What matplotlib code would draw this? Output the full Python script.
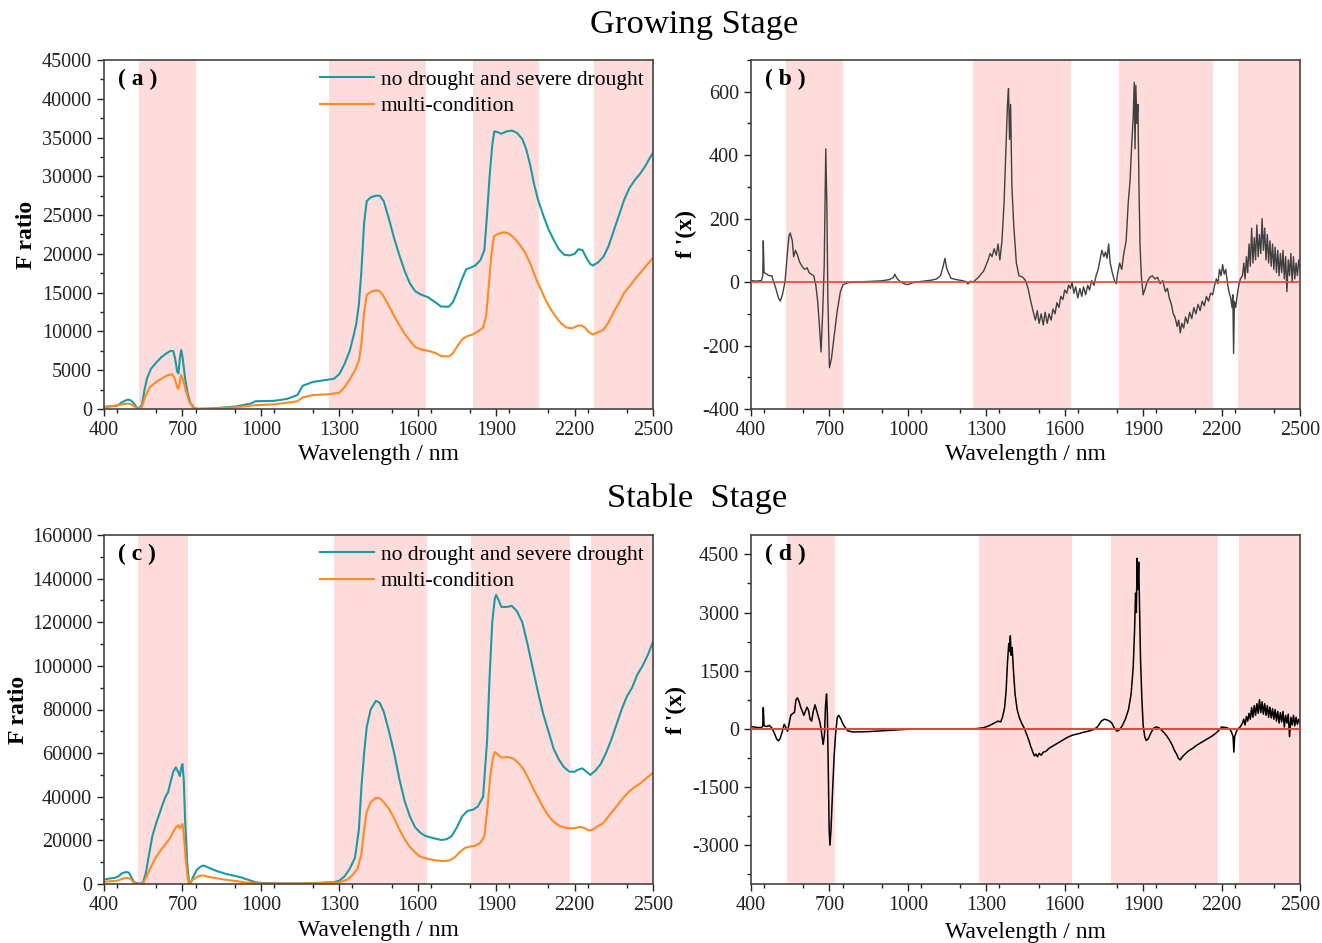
import numpy as np
import matplotlib
matplotlib.use("Agg")
import matplotlib.pyplot as plt
from matplotlib.ticker import MultipleLocator

plt.rcParams['font.family'] = ['Liberation Serif', 'DejaVu Serif']
plt.rcParams['axes.unicode_minus'] = False

# ---- data: (wavelength nm, value) ----
# (a) growing stage F ratio, no drought vs severe drought
teal_a = [(400, 300), (450, 400), (470, 900), (490, 1200), (500, 1150), (510, 900), (525, 200), (535, 150),
          (545, 500), (555, 2500), (565, 4000), (580, 5200), (600, 6000), (620, 6700), (640, 7200), (655, 7500),
          (665, 7450), (672, 6500), (680, 4800), (685, 4600), (690, 6500), (695, 7600), (700, 6800), (710, 4000),
          (720, 2000), (730, 800), (745, 100), (760, 0), (800, 50), (900, 300), (960, 700), (980, 1000),
          (1050, 1050), (1100, 1300), (1140, 1800), (1160, 3000), (1200, 3500), (1260, 3800), (1280, 3900),
          (1300, 4500), (1320, 5800), (1340, 7500), (1355, 9500), (1365, 11000), (1375, 13500), (1385, 18000),
          (1395, 24000), (1405, 26800), (1420, 27300), (1440, 27500), (1455, 27500), (1470, 26800), (1490, 24500),
          (1510, 22000), (1530, 19800), (1550, 17800), (1570, 16200), (1590, 15200), (1610, 14800), (1640, 14400),
          (1670, 13700), (1690, 13200), (1720, 13200), (1735, 13800), (1750, 15000), (1770, 16800), (1785, 18000),
          (1800, 18200), (1820, 18500), (1840, 19200), (1855, 20500), (1865, 25000), (1875, 30000), (1885, 34000),
          (1893, 35800), (1905, 35700), (1920, 35500), (1940, 35800), (1960, 35900), (1980, 35600), (2000, 34800),
          (2015, 33500), (2030, 31500), (2045, 29000), (2060, 27000), (2080, 25000), (2100, 23200), (2120, 21800),
          (2140, 20600), (2160, 19900), (2180, 19800), (2200, 20000), (2215, 20600), (2230, 20500), (2245, 19500),
          (2260, 18700), (2270, 18500), (2290, 18900), (2310, 19600), (2330, 21000), (2350, 23000), (2370, 25000),
          (2390, 27000), (2410, 28500), (2430, 29500), (2450, 30300), (2470, 31300), (2490, 32500), (2500, 33000)]

# (a) multi-condition
orange_a = [(400, 200), (470, 600), (490, 700), (505, 600), (525, 100), (535, 50), (545, 300), (560, 1800),
            (575, 2800), (600, 3500), (620, 3900), (640, 4300), (660, 4500), (670, 4000), (680, 2800), (685, 2600),
            (690, 3500), (695, 4400), (702, 3800), (712, 2500), (725, 1000), (740, 200), (755, 50), (800, 50),
            (900, 200), (980, 500), (1050, 600), (1100, 800), (1140, 1000), (1160, 1500), (1200, 1800), (1260, 1900),
            (1300, 2100), (1320, 2800), (1340, 3800), (1360, 5000), (1375, 6200), (1385, 8500), (1395, 12500),
            (1405, 14700), (1420, 15100), (1440, 15300), (1455, 15200), (1470, 14500), (1490, 13300), (1510, 12000),
            (1530, 10800), (1550, 9700), (1570, 8800), (1590, 8000), (1610, 7700), (1640, 7500), (1670, 7200),
            (1690, 6800), (1720, 6800), (1735, 7200), (1750, 8000), (1770, 9000), (1790, 9400), (1810, 9600),
            (1830, 10000), (1850, 10500), (1862, 12000), (1872, 16000), (1882, 20000), (1892, 22300), (1910, 22600),
            (1930, 22800), (1950, 22600), (1970, 22000), (1990, 21200), (2010, 20200), (2030, 18800), (2050, 17000),
            (2070, 15500), (2090, 14000), (2110, 12800), (2130, 11800), (2150, 11000), (2170, 10500), (2190, 10400),
            (2210, 10700), (2225, 10800), (2240, 10500), (2255, 9900), (2270, 9600), (2290, 9900), (2310, 10200),
            (2330, 11200), (2350, 12500), (2370, 13700), (2390, 15000), (2410, 15800), (2430, 16700), (2450, 17500),
            (2470, 18300), (2490, 19100), (2500, 19500)]

# (c) stable stage F ratio, no drought vs severe drought
teal_c = [(400, 2000), (420, 2500), (440, 2800), (455, 3500), (470, 5000), (485, 5500), (495, 5200), (505, 3000),
          (515, 800), (540, 0), (550, 1000), (560, 5000), (570, 12000), (585, 22000), (600, 28000), (620, 35000),
          (635, 40000), (645, 42000), (655, 47000), (665, 51500), (675, 53500), (685, 51000), (690, 49500),
          (695, 53000), (700, 55000), (705, 48000), (710, 30000), (718, 10000), (725, 1000), (730, 0), (740, 3000),
          (755, 6500), (770, 8000), (780, 8500), (800, 7500), (830, 6000), (870, 4500), (920, 3200), (950, 2000),
          (980, 800), (1000, 500), (1100, 200), (1200, 400), (1280, 900), (1300, 1500), (1320, 3500), (1340, 7000),
          (1360, 12000), (1375, 25000), (1385, 45000), (1395, 60000), (1405, 72000), (1420, 80000), (1440, 84000),
          (1455, 83000), (1470, 79000), (1490, 70000), (1510, 60000), (1530, 48000), (1550, 38000), (1570, 31000),
          (1590, 26000), (1610, 23500), (1630, 22000), (1660, 21000), (1690, 20200), (1710, 20500), (1730, 22000),
          (1750, 26000), (1770, 31000), (1790, 33500), (1810, 34000), (1830, 35500), (1850, 40000), (1865, 65000),
          (1875, 95000), (1885, 120000), (1895, 131000), (1900, 132500), (1910, 130000), (1920, 127000),
          (1940, 127000), (1960, 127500), (1980, 125000), (2000, 120000), (2020, 110000), (2040, 99000),
          (2060, 88000), (2080, 78000), (2100, 70000), (2120, 62000), (2140, 57000), (2160, 53500), (2180, 51500),
          (2200, 51500), (2215, 52500), (2230, 53000), (2245, 51500), (2260, 50000), (2280, 52000), (2300, 55000),
          (2320, 60000), (2340, 66000), (2360, 73000), (2380, 80000), (2400, 86000), (2420, 90000), (2440, 96000),
          (2460, 100000), (2480, 105000), (2500, 111000)]

# (c) multi-condition
orange_c = [(400, 1000), (430, 1300), (450, 1500), (470, 2400), (485, 2800), (500, 2500), (515, 500), (530, 0),
            (550, 300), (565, 4000), (580, 8000), (600, 12500), (620, 16000), (640, 19000), (655, 21500),
            (665, 24000), (675, 26000), (685, 27000), (690, 25500), (695, 26500), (700, 27500), (705, 23000),
            (712, 12000), (720, 3000), (725, 0), (740, 2000), (760, 3500), (775, 4000), (800, 3300), (850, 2200),
            (900, 1400), (950, 600), (1000, 200), (1200, 300), (1300, 800), (1330, 2000), (1350, 4000), (1370, 7000),
            (1385, 14000), (1395, 25000), (1405, 33000), (1420, 37500), (1440, 39500), (1455, 39300), (1470, 37500),
            (1490, 34500), (1510, 30000), (1530, 25000), (1550, 20500), (1570, 17000), (1590, 14500), (1610, 12500),
            (1640, 11500), (1670, 10800), (1700, 10500), (1720, 10800), (1740, 12000), (1760, 14500), (1780, 16500),
            (1800, 17200), (1820, 17500), (1840, 19000), (1855, 22000), (1867, 35000), (1878, 50000), (1888, 58000),
            (1895, 60500), (1905, 59500), (1920, 58000), (1945, 58200), (1965, 57500), (1985, 55500), (2005, 52500),
            (2025, 48000), (2045, 43000), (2065, 38500), (2085, 34000), (2105, 30500), (2125, 28000), (2145, 26500),
            (2165, 25800), (2185, 25500), (2200, 25600), (2220, 26200), (2235, 25800), (2255, 24500), (2270, 25000),
            (2290, 26500), (2310, 28000), (2330, 31000), (2350, 34000), (2370, 37000), (2390, 40000), (2410, 42500),
            (2430, 44500), (2450, 46000), (2470, 48000), (2490, 50000), (2500, 51000)]

# (b) growing stage f'(x)
wl_b = [400, 420, 440, 445, 447, 450, 460, 470, 480, 485, 495, 505, 512, 520, 530, 538, 545, 550, 558, 563, 570,
        578, 585, 595, 605, 615, 622, 630, 640, 648, 655, 662, 668, 674, 680, 686, 690, 694, 700, 708, 718, 730,
        742, 752, 770, 800, 850, 900, 930, 945, 950, 958, 970, 985, 1000, 1015, 1030, 1060, 1090, 1110, 1125,
        1135, 1142, 1148, 1155, 1165, 1185, 1205, 1220, 1230, 1240, 1250, 1270, 1290, 1305, 1315, 1322, 1330,
        1338, 1345, 1352, 1360, 1368, 1375, 1381, 1385, 1389, 1393, 1398, 1405, 1415, 1425, 1440, 1450, 1460,
        1470, 1480, 1488, 1495, 1502, 1510, 1518, 1525, 1533, 1540, 1548, 1555, 1563, 1570, 1578, 1585, 1593,
        1600, 1608, 1615, 1622, 1628, 1635, 1642, 1650, 1658, 1665, 1672, 1680, 1688, 1695, 1703, 1712, 1720,
        1728, 1735, 1742, 1750, 1756, 1762, 1768, 1774, 1782, 1790, 1797, 1803, 1810, 1818, 1826, 1835, 1843,
        1850, 1856, 1862, 1866, 1869, 1872, 1876, 1880, 1884, 1888, 1893, 1900, 1908, 1915, 1925, 1935, 1945,
        1955, 1965, 1975, 1985, 1993, 2000, 2008, 2015, 2022, 2030, 2036, 2042, 2048, 2055, 2062, 2070, 2078,
        2086, 2094, 2102, 2110, 2118, 2126, 2134, 2142, 2150, 2158, 2166, 2172, 2180, 2186, 2192, 2198, 2204,
        2210, 2216, 2222, 2228, 2235, 2240, 2243, 2246, 2249, 2254, 2260, 2266, 2272, 2280, 2285, 2290, 2295,
        2300, 2305, 2310, 2315, 2320, 2325, 2330, 2335, 2340, 2345, 2350, 2355, 2360, 2365, 2370, 2375, 2380,
        2385, 2390, 2395, 2400, 2405, 2410, 2415, 2420, 2425, 2430, 2435, 2440, 2445, 2450, 2455, 2460, 2465,
        2470, 2475, 2480, 2485, 2490, 2495, 2500]
deriv_b = [5, 3, 5, 20, 130, 30, 25, 20, 20, 5, -20, -50, -60, -40, 0, 80, 145, 155, 130, 80, 100,
           85, 65, 50, 40, 45, 30, 25, 20, -10, -60, -140, -220, -100, 50, 420, 250, -50, -270, -240, -170, -90,
           -30, -8, -2, 0, 2, 4, 8, 15, 25, 12, 2, -5, -8, -3, 0, 3, 6, 10, 20,
           50, 75, 45, 30, 12, 8, 5, 2, -6, 3, 0, 15, 35, 65, 90, 80, 105,
           85, 120, 70, 130, 250, 420, 560, 610, 450, 560, 300, 180, 60, 20, 15, 5, -20,
           -60, -95, -120, -90, -130, -100, -135, -95, -130, -100, -120, -85, -100, -65, -80, -45, -55,
           -25, -35, -10, -20, 0, -35, -15, -50, -20, -45, -15, -40, -10, -25, 5, -10, 20,
           40, 70, 100, 80, 95, 75, 120, 60, 30, 5, -5, 30, 60, 40, 90, 130, 250,
           320, 430, 520, 630, 420, 620, 500, 560, 300, 120, 20, -40, -20, 0, 15, 20, 10,
           15, -5, 5, -30, -20, -50, -70, -100, -110, -140, -120, -160, -130, -145, -110, -130, -95,
           -115, -80, -100, -70, -90, -60, -75, -45, -60, -35, -40, -15, 10, -5, 40, 20, 55,
           25, 40, 0, -30, -50, -80, -40, -225, -60, -80, -40, -10, 10, 20, 60, 10, 80,
           30, 120, 50, 170, 60, 140, 70, 180, 80, 150, 90, 200, 100, 170, 70, 150, 60,
           130, 50, 120, 40, 110, 30, 100, 20, 90, 30, 100, 10, 80, -30, 70, 20, 90,
           0, 80, 10, 60, 20, 70, 40]

# (d) stable stage f'(x)
wl_d = [400, 420, 440, 445, 447, 450, 460, 470, 480, 490, 498, 505, 512, 520, 527, 533, 540, 546, 552, 560, 566,
        572, 578, 584, 590, 596, 602, 608, 614, 620, 626, 632, 638, 645, 652, 658, 664, 670, 676, 681, 685, 689,
        692, 695, 699, 702, 706, 712, 718, 724, 730, 736, 744, 752, 760, 770, 790, 850, 900, 950, 980, 1000,
        1100, 1200, 1260, 1290, 1310, 1330, 1345, 1355, 1362, 1370, 1376, 1381, 1386, 1389, 1392, 1395, 1399,
        1404, 1410, 1418, 1426, 1435, 1445, 1455, 1463, 1470, 1478, 1484, 1490, 1496, 1502, 1510, 1518, 1528,
        1540, 1555, 1570, 1590, 1610, 1630, 1650, 1670, 1690, 1710, 1725, 1740, 1752, 1762, 1772, 1780, 1790,
        1800, 1810, 1820, 1832, 1844, 1854, 1862, 1867, 1871, 1874, 1877, 1880, 1883, 1886, 1890, 1895, 1900,
        1906, 1912, 1920, 1930, 1940, 1950, 1960, 1970, 1980, 1990, 2000, 2010, 2020, 2028, 2035, 2042, 2050,
        2060, 2075, 2090, 2105, 2120, 2135, 2150, 2165, 2180, 2192, 2200, 2210, 2220, 2230, 2238, 2244, 2247,
        2250, 2256, 2262, 2270, 2276, 2280, 2285, 2290, 2295, 2300, 2305, 2310, 2315, 2320, 2325, 2330, 2335,
        2340, 2345, 2350, 2355, 2360, 2365, 2370, 2375, 2380, 2385, 2390, 2395, 2400, 2405, 2410, 2415, 2420,
        2425, 2430, 2435, 2440, 2445, 2450, 2455, 2460, 2465, 2470, 2475, 2480, 2485, 2490, 2495, 2500]
deriv_d = [60, 40, 30, 80, 550, 80, 60, 90, 20, -120, -260, -310, -240, -60, 120, 40, -60, 150, 350, 400, 420,
           750, 800, 700, 560, 460, 350, 450, 560, 480, 250, 200, 450, 620, 450, 300, 160, -100, -400, -150, 600, 900,
           400, -800, -2600, -3000, -2600, -1600, -700, -100, 300, 350, 250, 120, 40, -50, -80, -70, -50, -30, -20, -10,
           -5, 0, 5, 30, 80, 150, 200, 180, 300, 550, 1000, 1700, 2200, 2000, 2400, 1900, 2100,
           1500, 900, 500, 300, 150, 20, -150, -300, -450, -600, -700, -650, -720, -630, -680, -600, -580,
           -500, -440, -380, -300, -220, -160, -130, -90, -60, -20, 50, 200, 250, 230, 200, 150, 20,
           -60, -20, 80, 250, 500, 900, 1600, 2500, 3500, 3000, 4400, 3600, 4300, 3200, 1800, 800, 100,
           -200, -300, -250, -100, 20, 50, 30, -30, -100, -180, -280, -400, -560, -650, -760, -800, -720,
           -650, -560, -500, -420, -360, -300, -240, -180, -100, -20, 50, 40, 30, 0, -80, -200, -600,
           -200, -80, 0, 40, 100, 150, 250, 100, 320, 200, 400, 250, 550, 300, 600, 350, 650,
           400, 750, 420, 700, 380, 650, 350, 600, 300, 560, 280, 520, 250, 500, 200, 450, 150,
           420, 180, 450, 50, 350, 150, 380, -200, 300, 100, 350, 80, 300, 120, 250, 150]

# shaded bands (nm)
bands_a = [(535, 750), (1261, 1632), (1811, 2064), (2274, 2500)]
bands_b = [(532, 750), (1250, 1624), (1806, 2166), (2263, 2500)]
bands_c = [(531, 722), (1281, 1635), (1803, 2181), (2261, 2500)]
bands_d = [(539, 721), (1274, 1627), (1776, 2186), (2265, 2500)]

teal = '#1b9aa3'
orange = '#ff8a24'
shade = '#ffdcdc'

fig = plt.figure(figsize=(13.22, 9.43), dpi=100)
W, H = 1322, 943


def make_ax(l, t, r, b):
    return fig.add_axes([l / W, 1 - b / H, (r - l) / W, (b - t) / H])


ax_a = make_ax(104, 60, 653, 409)
ax_b = make_ax(751, 60, 1300, 409)
ax_c = make_ax(104, 535, 653, 884)
ax_d = make_ax(751, 535, 1300, 884)


def style(ax, bands, label, pad):
    for lo, hi in bands:
        ax.axvspan(lo, hi, color=shade, lw=0, zorder=0)
    ax.set_xlim(400, 2500)
    ax.set_xticks(np.arange(400, 2501, 300))
    ax.xaxis.set_minor_locator(MultipleLocator(150))
    ax.tick_params(which='both', direction='out', top=False, right=False, labelsize=14.5, colors='#222222')
    ax.tick_params(which='major', length=5, width=1)
    ax.tick_params(which='minor', length=3, width=1)
    for s in ax.spines.values():
        s.set_color('#444444')
        s.set_linewidth(1.2)
    ax.set_xlabel('Wavelength / nm', fontsize=17, labelpad=pad)
    ax.text(0.025, 0.975, label, transform=ax.transAxes, fontsize=17, fontweight='bold',
            va='top', ha='left')


def draw_pairs(ax, pairs, color, label):
    x, y = zip(*pairs)
    ax.plot(x, y, color=color, lw=1.5, label=label)


style(ax_a, bands_a, '( a )', 3)
draw_pairs(ax_a, teal_a, teal, 'no drought and severe drought')
draw_pairs(ax_a, orange_a, orange, 'multi-condition')
ax_a.set_ylim(0, 45000)
ax_a.yaxis.set_major_locator(MultipleLocator(5000))
ax_a.yaxis.set_minor_locator(MultipleLocator(2500))
ax_a.set_ylabel('F ratio', fontsize=17, fontweight='bold', labelpad=4)

style(ax_c, bands_c, '( c )', 4)
draw_pairs(ax_c, teal_c, teal, 'no drought and severe drought')
draw_pairs(ax_c, orange_c, orange, 'multi-condition')
ax_c.set_ylim(0, 160000)
ax_c.yaxis.set_major_locator(MultipleLocator(20000))
ax_c.yaxis.set_minor_locator(MultipleLocator(10000))
ax_c.set_ylabel('F ratio', fontsize=17, fontweight='bold', labelpad=2)

for ax in (ax_a, ax_c):
    ax.legend(loc='upper right', frameon=False, fontsize=15.5, handlelength=2.5, handletextpad=0.3,
              borderaxespad=0.05, labelspacing=0.3)

style(ax_b, bands_b, '( b )', 3)
ax_b.axhline(0, color='#e8413c', lw=1.2, zorder=3)
ax_b.plot(wl_b, deriv_b, color='#404040', lw=1.0, zorder=2)
ax_b.set_ylim(-400, 700)
ax_b.set_yticks(np.arange(-400, 601, 200))
ax_b.yaxis.set_minor_locator(MultipleLocator(100))
ax_b.set_ylabel("f '(x)", fontsize=17, fontweight='bold', labelpad=4)

style(ax_d, bands_d, '( d )', 5)
ax_d.axhline(0, color='#e8413c', lw=1.4, zorder=3)
ax_d.plot(wl_d, deriv_d, color='black', lw=1.1, zorder=2)
ax_d.set_ylim(-4000, 5000)
ax_d.set_yticks(np.arange(-3000, 4501, 1500))
ax_d.yaxis.set_minor_locator(MultipleLocator(750))
ax_d.set_ylabel("f '(x)", fontsize=17, fontweight='bold', labelpad=4)

fig.text(694 / W, 1 - 25 / H, 'Growing Stage', fontsize=24.8, ha='center', va='center')
fig.text(697 / W, 1 - 498 / H, 'Stable  Stage', fontsize=24.8, ha='center', va='center')

fig.savefig('out.png', dpi=100)
